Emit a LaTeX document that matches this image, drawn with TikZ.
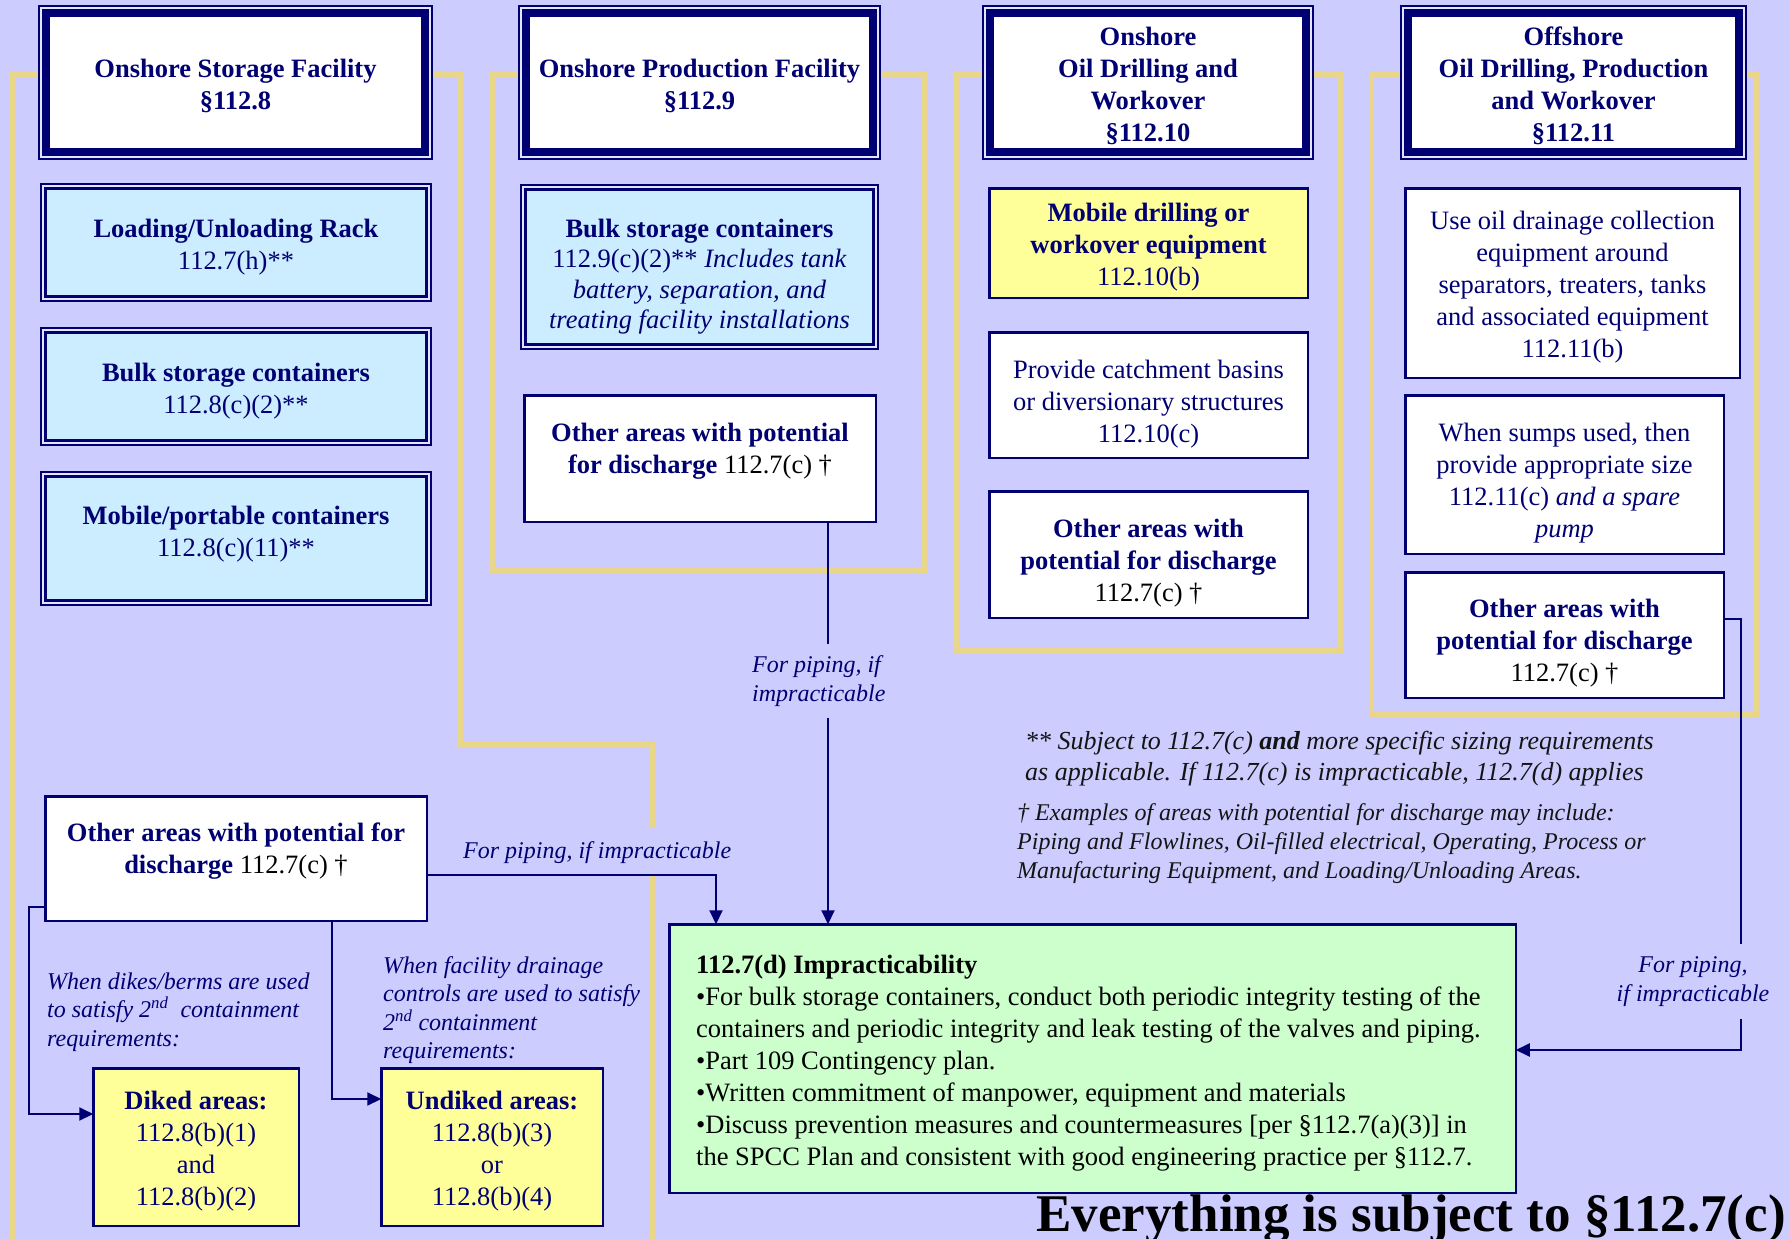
\documentclass[tikz,border=0pt]{standalone}
\usepackage{fontspec}
\setmainfont{Liberation Serif}
\usetikzlibrary{arrows.meta}
\definecolor{bgc}{RGB}{204,204,255}
\definecolor{navyc}{RGB}{0,0,115}
\definecolor{yelc}{RGB}{234,214,138}
\definecolor{gapc}{RGB}{228,228,255}
\definecolor{bluef}{RGB}{204,236,255}
\definecolor{yelf}{RGB}{255,255,153}
\definecolor{greenf}{RGB}{204,255,204}
\definecolor{fnc}{RGB}{20,20,20}
\begin{document}
\begin{tikzpicture}[x=1pt,y=-1pt,
 hdr/.style={draw=navyc, line width=8pt, fill=white, outer sep=0pt, inner sep=0pt},
 thinframe/.style={draw=navyc, line width=2pt, fill=gapc},
 bluebox/.style={draw=navyc, line width=3pt, fill=bluef, outer sep=0pt, inner sep=0pt},
 plainbox/.style={draw=navyc, line width=2.5pt, fill=white, outer sep=0pt, inner sep=0pt},
 yelbox/.style={plainbox, fill=yelf},
 grnbox/.style={plainbox, fill=greenf},
 txt/.style={font=\fontsize{26.5}{32}\selectfont, text=navyc, align=center, inner sep=0pt},
 txtb/.style={txt, font=\fontsize{26.5}{32}\selectfont\bfseries},
 lbl/.style={font=\fontsize{24}{28.5}\selectfont\itshape, text=navyc, inner sep=0pt},
 yframe/.style={draw=yelc, line width=5.5pt},
 conn/.style={draw=navyc, line width=2pt},
 arr/.style={conn, -{Triangle[length=14pt,width=13pt]}},
]
\fill[bgc] (0,0) rectangle (1789,1239);
\useasboundingbox (0,0) rectangle (1789,1239);

% yellow group frames
\draw[yframe] (12,1250) -- (12,74) -- (42,74);
\draw[yframe] (430,74) -- (460,74) -- (460,745) -- (652.5,745) -- (652.5,1250);
\draw[yframe] (878,74) -- (924,74) -- (924,570.5) -- (492,570.5) -- (492,74) -- (522,74);
\draw[yframe] (1311,74) -- (1340,74) -- (1340,651) -- (956,651) -- (956,74) -- (986,74);
\draw[yframe] (1743,74) -- (1756,74) -- (1756,715) -- (1371.5,715) -- (1371.5,74) -- (1404,74);

% headers
\draw[thinframe] (39,6) rectangle (432,159);
\node[hdr, minimum width=379, minimum height=139] (h1) at (235.5,82.5) {};
\node[txtb] (h1t) at (235.5,86) {Onshore Storage Facility\\§112.8};
\draw[thinframe] (519,6) rectangle (880,159);
\node[hdr, minimum width=347, minimum height=139] (h2) at (699.5,82.5) {};
\node[txtb] (h2t) at (699.5,86) {Onshore Production Facility\\§112.9};
\draw[thinframe] (983,6) rectangle (1313,159);
\node[hdr, minimum width=316, minimum height=139] (h3) at (1148,82.5) {};
\node[txtb] (h3t) at (1148,86) {Onshore\\Oil Drilling and\\Workover\\§112.10};
\draw[thinframe] (1401,6) rectangle (1746,159);
\node[hdr, minimum width=331, minimum height=139] (h4) at (1573.5,82.5) {};
\node[txtb] (h4t) at (1573.5,86) {Offshore\\Oil Drilling, Production\\and Workover\\§112.11};

% storage column
\draw[thinframe] (41,184) rectangle (431,301);
\node[bluebox, minimum width=381, minimum height=108] (b1) at (236,242.5) {};
\node[txt] (b1t) at (236,247.5) {\textbf{Loading/Unloading Rack}\\112.7(h)**};
\draw[thinframe] (41,328) rectangle (431,445);
\node[bluebox, minimum width=381, minimum height=108] (b2) at (236,386.5) {};
\node[txt] (b2t) at (236,391) {\textbf{Bulk storage containers}\\112.8(c)(2)**};
\draw[thinframe] (41,472) rectangle (431,605);
\node[bluebox, minimum width=381, minimum height=124] (b3) at (236,538.5) {};
\node[txt] (b3t) at (236,534.5) {\textbf{Mobile/portable containers}\\112.8(c)(11)**};

% production column
\draw[thinframe] (521,185) rectangle (878,349);
\node[bluebox, minimum width=348, minimum height=155] (b4) at (699.5,267) {};
\node[txt, font=\fontsize{26.5}{30.5}\selectfont] (b4t) at (699.5,276.5) {\textbf{Bulk storage containers}\\112.9(c)(2)** \textit{Includes tank}\\\textit{battery, separation, and}\\\textit{treating facility installations}};
\node[plainbox, minimum width=351.5, minimum height=126.5] (p) at (700,458.5) {};
\node[txt] (pt) at (700,451.5) {\textbf{Other areas with potential}\\\textbf{for discharge} {\color{black}112.7(c) †}};

% drilling column
\node[yelbox, minimum width=318.5, minimum height=109.5] (d1) at (1148.5,243) {};
\node[txt] (d1t) at (1148.5,247.5) {\textbf{Mobile drilling or}\\\textbf{workover equipment}\\112.10(b)};
\node[plainbox, minimum width=318.5, minimum height=125.5] (d2) at (1148.5,395) {};
\node[txt] (d2t) at (1148.5,404) {Provide catchment basins\\or diversionary structures\\112.10(c)};
\node[plainbox, minimum width=318.5, minimum height=126.5] (d3) at (1148.5,554.5) {};
\node[txt] (d3t) at (1148.5,563.5) {\textbf{Other areas with}\\\textbf{potential for discharge}\\{\color{black}112.7(c) †}};

% offshore column
\node[plainbox, minimum width=334.5, minimum height=189.5] (o1) at (1572.5,283) {};
\node[txt] (o1t) at (1572.5,287.5) {Use oil drainage collection\\equipment around\\separators, treaters, tanks\\and associated equipment\\112.11(b)};
\node[plainbox, minimum width=318.5, minimum height=158.5] (o2) at (1564.5,474.5) {};
\node[txt] (o2t) at (1564.5,483.5) {When sumps used, then\\provide appropriate size\\112.11(c) \textit{and a spare}\\\textit{pump}};
\node[plainbox, minimum width=318.5, minimum height=125.5] (o3) at (1564.5,635) {};
\node[txt] (o3t) at (1564.5,643.5) {\textbf{Other areas with}\\\textbf{potential for discharge}\\{\color{black}112.7(c) †}};

% lower left
\node[plainbox, minimum width=381.5, minimum height=124.5] (l) at (236,858.5) {};
\node[txt] (lt) at (236,851.5) {\textbf{Other areas with potential for}\\\textbf{discharge} {\color{black}112.7(c) †}};
\node[yelbox, minimum width=205.5, minimum height=157.5] (k1) at (196,1147) {};
\node[txt] (k1t) at (196,1151.5) {\textbf{Diked areas:}\\112.8(b)(1)\\and\\112.8(b)(2)};
\node[yelbox, minimum width=221.5, minimum height=157.5] (k2) at (492,1147) {};
\node[txt] (k2t) at (492,1151.5) {\textbf{Undiked areas:}\\112.8(b)(3)\\or\\112.8(b)(4)};

% green box
\node[grnbox, minimum width=846.5, minimum height=268.5] (g) at (1092.5,1058.5) {};
\node[txt, align=left, text=black, anchor=west] (gt) at (696,1063.5) {\textbf{112.7(d) Impracticability}\\•For bulk storage containers, conduct both periodic integrity testing of the\\containers and periodic integrity and leak testing of the valves and piping.\\•Part 109 Contingency plan.\\•Written commitment of manpower, equipment and materials\\•Discuss prevention measures and countermeasures [per §112.7(a)(3)] in\\the SPCC Plan and consistent with good engineering practice per §112.7.};

% connectors
\coordinate (x1) at (828,0);
\coordinate (x2) at (716,0);
\coordinate (y2) at (0,875);
\coordinate (y3) at (0,907);
\coordinate (x3) at (28.5,0);
\coordinate (y3b) at (0,1114);
\coordinate (x4) at (332,0);
\coordinate (y4) at (0,1099);
\coordinate (y5) at (0,619);
\coordinate (x5) at (1741,0);
\coordinate (y5b) at (0,1050);
\draw[arr] (p.south -| x1) -- (g.north -| x1);
\draw[arr] (l.east |- y2) -| (g.north -| x2);
\draw[arr] (l.west |- y3) -| (x3 |- y3b) -- (k1.west |- y3b);
\draw[arr] (l.south -| x4) |- (k2.west |- y4);
\draw[arr] (o3.east |- y5) -| (x5 |- y5b) -- (g.east |- y5b);

% connector labels
\node[lbl, fill=bgc, align=left, inner xsep=2pt, inner ysep=12pt, anchor=west] (c1l) at (750,681) {For piping, if\\impracticable};
\node[lbl, fill=bgc, inner xsep=2pt, inner ysep=0pt, text height=32pt, text depth=14pt, anchor=base west] (c2l) at (461,858.5) {For piping, if impracticable};
\node[lbl, fill=bgc, align=center, inner xsep=2pt, inner ysep=13pt] (c5l) at (1693,981.5) {For piping,\\if impracticable};
\node[lbl, align=left, anchor=west] (c3l) at (47,1012) {When dikes/berms are used\\to satisfy 2\textsuperscript{nd}\ \ containment\\requirements:};
\node[lbl, align=left, anchor=west] (c4l) at (383,1010) {When facility drainage\\controls are used to satisfy\\2\textsuperscript{nd} containment\\requirements:};

% footnotes
\node[font=\fontsize{26}{31}\selectfont\itshape, text=fnc, align=left, anchor=west, inner sep=0pt] (fn1) at (1025,759) {** Subject to 112.7(c) \textbf{and} more specific sizing requirements\\as applicable. If 112.7(c) is impracticable, 112.7(d) applies};
\node[font=\fontsize{24}{28.7}\selectfont\itshape, text=fnc, align=left, anchor=west, inner sep=0pt] (fn2) at (1017,843.5) {† Examples of areas with potential for discharge may include:\\Piping and Flowlines, Oil-filled electrical, Operating, Process or\\Manufacturing Equipment, and Loading/Unloading Areas.};

% title
\node[font=\fontsize{53}{60}\selectfont\bfseries, text=black, anchor=base east, inner sep=0pt] (title) at (1786,1231) {Everything is subject to §112.7(c)};
\end{tikzpicture}
\end{document}
